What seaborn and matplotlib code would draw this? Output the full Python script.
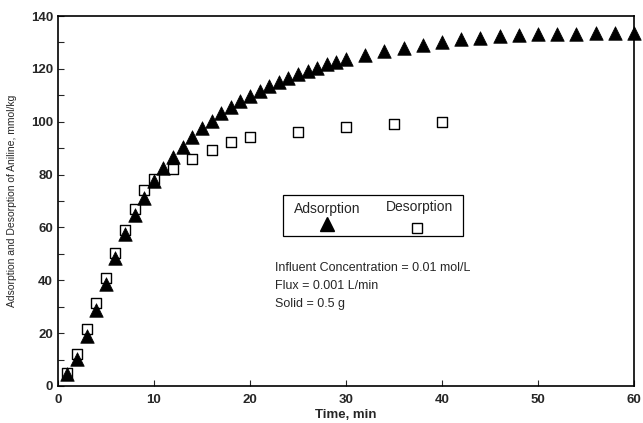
import matplotlib
matplotlib.use("Agg")
import matplotlib.pyplot as plt
import seaborn as sns
import pandas as pd
from matplotlib.patches import Rectangle
from matplotlib.ticker import MultipleLocator

ads_time = list(range(1, 31)) + list(range(32, 61, 2))
ads_value = [4.4, 10.3, 18.9, 28.6, 38.5, 48.5, 57.4, 64.6, 71.2, 77.6,
             82.6, 86.8, 90.4, 94.3, 97.5, 100.3, 103.2, 105.7, 107.8, 109.7,
             111.6, 113.5, 115.0, 116.6, 117.9, 119.4, 120.4, 121.7, 122.6, 123.8,
             125.3, 126.7, 128.0, 129.2, 130.3, 131.2, 131.8, 132.3, 132.8, 133.1,
             133.3, 133.4, 133.5, 133.5, 133.5]
des_time = [1, 2, 3, 4, 5, 6, 7, 8, 9, 10, 12, 14, 16, 18, 20, 25, 30, 35, 40]
des_value = [5.0, 12.2, 21.4, 31.3, 41.0, 50.4, 58.9, 66.8, 74.0, 78.2,
             82.3, 85.8, 89.3, 92.3, 94.3, 96.1, 97.9, 99.0, 100.0]
x_ticks = [0, 10, 20, 30, 40, 50, 60]
y_ticks = [0, 20, 40, 60, 80, 100, 120, 140]
notes = ["Influent Concentration = 0.01 mol/L", "Flux = 0.001 L/min", "Solid = 0.5 g"]

sns.set_style("ticks")
plt.rcParams['font.family'] = ['Liberation Sans', 'DejaVu Sans']

ads = pd.DataFrame({"t": ads_time, "v": ads_value})
des = pd.DataFrame({"t": des_time, "v": des_value})

fig = plt.figure(figsize=(6.43, 4.23), dpi=100)
ax = fig.add_axes([0.090, 0.0875, 0.896, 0.8745])

sns.scatterplot(data=des, x="t", y="v", ax=ax, marker="s", s=60,
                facecolor="white", edgecolor="black", linewidth=1.0, zorder=2)
sns.scatterplot(data=ads, x="t", y="v", ax=ax, marker="^", s=95,
                color="black", edgecolor="black", linewidth=0.5, zorder=3, clip_on=False)

ax.set_xlim(0, 60)
ax.set_ylim(0, 140)
ax.set_xticks(x_ticks)
ax.set_yticks(y_ticks)
ax.yaxis.set_minor_locator(MultipleLocator(10))
ax.tick_params(axis="both", which="both", direction="in", labelsize=9.5, width=0.8)
ax.tick_params(axis="both", which="major", length=4)
ax.tick_params(axis="both", which="minor", length=4)
ax.tick_params(axis="x", which="major", pad=6)
for lab in ax.get_xticklabels() + ax.get_yticklabels():
    lab.set_fontweight("bold")
for sp in ax.spines.values():
    sp.set_visible(True)
    sp.set_linewidth(1.2)
    sp.set_color("black")

ax.set_xlabel("Time, min", fontsize=9.5, fontweight="bold", labelpad=2)
ax.set_ylabel("Adsorption and Desorption of Aniline, mmol/kg", fontsize=7.5, labelpad=10)

# legend box
ax.add_patch(Rectangle((0.391, 0.405), 0.312, 0.111, transform=ax.transAxes,
                       facecolor="white", edgecolor="black", linewidth=0.9, zorder=4))
ax.text(0.467, 0.478, "Adsorption", transform=ax.transAxes, ha="center", va="center",
        fontsize=10, zorder=5)
ax.text(0.627, 0.484, "Desorption", transform=ax.transAxes, ha="center", va="center",
        fontsize=10, zorder=5)
ax.plot([0.467], [0.437], transform=ax.transAxes, marker="^", ms=10, color="black",
        linestyle="none", zorder=5)
ax.plot([0.624], [0.428], transform=ax.transAxes, marker="s", ms=7.5, mfc="white",
        mec="black", mew=1.0, linestyle="none", zorder=5)

for i, note in enumerate(notes):
    ax.text(0.377, 0.319 - i * 0.049, note, transform=ax.transAxes, ha="left",
            va="center", fontsize=9)

fig.savefig("out.png", dpi=100)
